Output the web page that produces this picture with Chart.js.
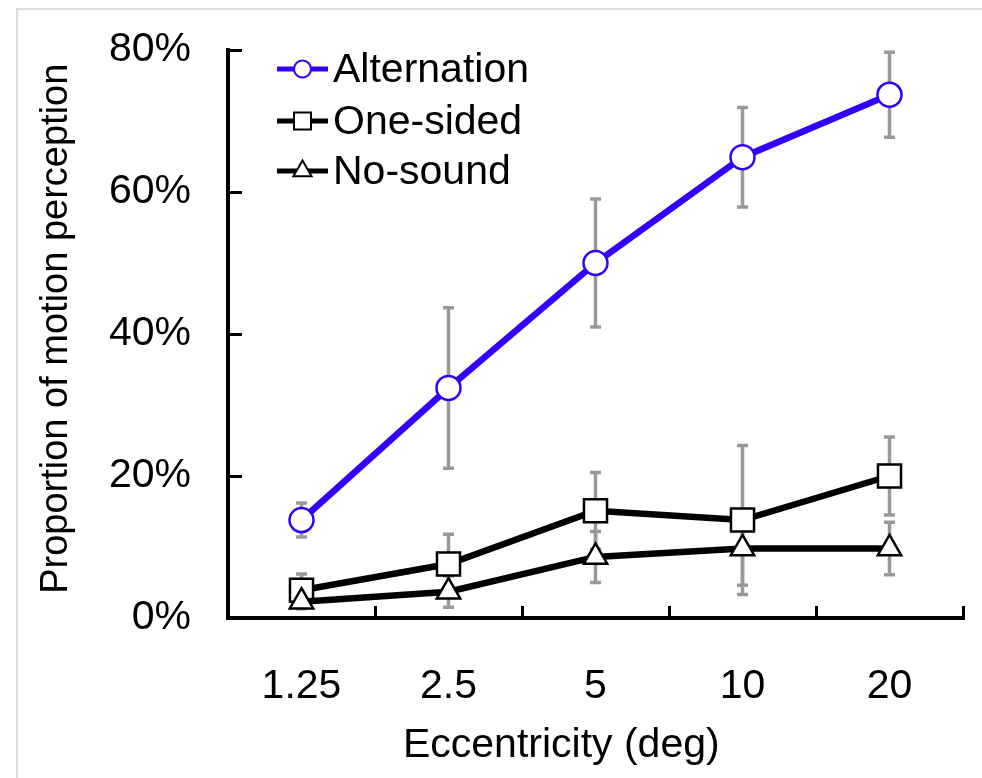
<!DOCTYPE html>
<html><head><meta charset="utf-8">
<script src="https://cdn.jsdelivr.net/npm/chart.js@4.4.0/dist/chart.umd.min.js"></script>
<style>
html,body{margin:0;padding:0;background:#fff;}
#wrap{position:relative;width:982px;height:778px;overflow:hidden;}
#frame{position:absolute;left:16px;top:8px;right:-10px;bottom:-10px;border-left:2px solid #dcdcdc;border-top:2px solid #dcdcdc;pointer-events:none;}
canvas{position:absolute;left:0;top:0;}
</style></head><body>
<div id="wrap"><canvas id="c" width="982" height="778"></canvas><div id="frame"></div></div>
<script>
const categories = ['1.25', '2.5', '5', '10', '20'];
const seriesNames = ['Alternation', 'One-sided', 'No-sound'];
const alternation = [13.8, 32.4, 50.0, 64.9, 73.7];
const alternationErr = [2.4, 11.3, 9.0, 7.0, 6.0];
const oneSided = [3.9, 7.6, 15.1, 13.8, 20.0];
const oneSidedErr = [2.3, 4.2, 5.4, 10.5, 5.5];
const noSound = [2.3, 3.7, 8.6, 9.8, 9.8];
const noSoundErr = [1.0, 2.2, 3.6, 5.2, 3.7];
const yTickValues = [0, 20, 40, 60, 80];
const xTitle = 'Eccentricity (deg)';
const yTitle = 'Proportion of motion perception';

const FONT = "'Liberation Sans', Arial, Helvetica, sans-serif";
const BLUE = '#3300ff';

const errorBars = {
  id: 'errorBars',
  beforeDatasetsDraw(chart) {
    const ctx = chart.ctx;
    const ys = chart.scales.y;
    ctx.save();
    ctx.strokeStyle = '#999999';
    ctx.lineWidth = 3.5;
    ctx.lineCap = 'butt';
    chart.data.datasets.forEach((ds, i) => {
      const meta = chart.getDatasetMeta(i);
      meta.data.forEach((pt, j) => {
        const v = ds.data[j], e = ds.err[j];
        const x = pt.x;
        const yt = ys.getPixelForValue(v + e);
        const yb = ys.getPixelForValue(v - e);
        ctx.beginPath();
        ctx.moveTo(x, yt); ctx.lineTo(x, yb);
        ctx.moveTo(x - 5.5, yt); ctx.lineTo(x + 5.5, yt);
        ctx.moveTo(x - 5.5, yb); ctx.lineTo(x + 5.5, yb);
        ctx.stroke();
      });
    });
    ctx.restore();
  }
};

const customLegend = {
  id: 'customLegend',
  afterDatasetsDraw(chart, args, opts) {
    const ctx = chart.ctx;
    ctx.save();
    chart.data.datasets.forEach((ds, i) => {
      const y = opts.rows[i];
      ctx.strokeStyle = ds.borderColor;
      ctx.lineWidth = 5;
      ctx.beginPath();
      ctx.moveTo(opts.x0, y); ctx.lineTo(opts.x1, y);
      ctx.stroke();
      ctx.fillStyle = '#ffffff';
      ctx.strokeStyle = ds.pointBorderColor;
      ctx.lineWidth = 2;
      Chart.helpers.drawPoint(ctx, {pointStyle: ds.pointStyle, radius: opts.radii[i], rotation: 0, borderWidth: 2}, (opts.x0 + opts.x1) / 2, y);
      ctx.fillStyle = '#000';
      ctx.font = '41px ' + FONT;
      ctx.textBaseline = 'middle';
      ctx.textAlign = 'left';
      ctx.fillText(ds.label, opts.textX, y + 2);
    });
    ctx.restore();
  }
};

new Chart(document.getElementById('c'), {
  type: 'line',
  data: {
    labels: categories,
    datasets: [
      {label: seriesNames[0], data: alternation, err: alternationErr, borderColor: BLUE, borderWidth: 6.5,
       pointStyle: 'circle', pointRadius: 12, pointBackgroundColor: '#fff', pointBorderColor: BLUE, pointBorderWidth: 2.5, order: 2},
      {label: seriesNames[1], data: oneSided, err: oneSidedErr, borderColor: '#000', borderWidth: 6.5,
       pointStyle: 'rect', pointRadius: 16.3, pointBackgroundColor: '#fff', pointBorderColor: '#000', pointBorderWidth: 2.5, order: 1},
      {label: seriesNames[2], data: noSound, err: noSoundErr, borderColor: '#000', borderWidth: 6.5,
       pointStyle: 'triangle', pointRadius: 13.5, pointBackgroundColor: '#fff', pointBorderColor: '#000', pointBorderWidth: 2.5, order: 0}
    ]
  },
  options: {
    responsive: false,
    animation: false,
    devicePixelRatio: 1,
    layout: {padding: {left: 0, right: 19, top: 50, bottom: 0}},
    plugins: {
      legend: {display: false},
      tooltip: {enabled: false},
      customLegend: {x0: 277, x1: 328, textX: 333, rows: [69, 121, 171], radii: [8.5, 12, 10.5]}
    },
    scales: {
      x: {
        type: 'category',
        offset: true,
        grid: {offset: true, drawOnChartArea: false, tickLength: -12, tickWidth: 3, color: '#000'},
        border: {display: true, color: '#000', width: 4},
        ticks: {font: {family: FONT, size: 41}, color: '#000', padding: 56, maxRotation: 0},
        title: {display: true, text: xTitle + '\u00a0\u00a0\u00a0\u00a0\u00a0\u00a0', font: {family: FONT, size: 41}, color: '#000', padding: {top: 0, bottom: 8}},
        afterFit(s) { s.height = 160; s.paddingLeft = 0; s.paddingRight = 0; }
      },
      y: {
        min: 0, max: 80,
        afterBuildTicks(s) { s.ticks = yTickValues.map(v => ({value: v})); },
        grid: {drawOnChartArea: false, tickLength: -14, tickWidth: 3, color: '#000'},
        border: {display: true, color: '#000', width: 4},
        ticks: {font: {family: FONT, size: 41}, color: '#000', padding: 51, callback: v => v + '%'},
        title: {display: true, text: '\u00a0' + yTitle, font: {family: FONT, size: 38}, color: '#000', padding: {top: 34, bottom: 0}},
        afterFit(s) { s.width = 228; s.paddingTop = 0; s.paddingBottom = 0; }
      }
    }
  },
  plugins: [errorBars, customLegend]
});
</script>
</body></html>
